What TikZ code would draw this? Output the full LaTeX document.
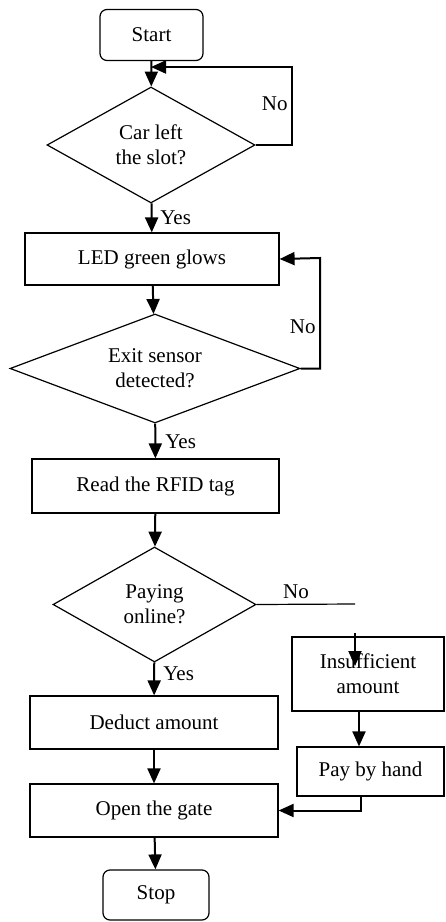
\documentclass[tikz,border=0pt]{standalone}
\usepackage{fontspec}
\setmainfont{Liberation Serif}
\usepackage{tikz}
\usetikzlibrary{arrows.meta,shapes,shapes.geometric,positioning,calc}
\tikzset{process/.style={draw, line width=0.6pt, align=center, inner sep=0pt},
         terminal/.style={process, rounded corners=3.5pt},
         decision/.style={diamond, draw, line width=0.6pt, align=center, inner sep=0pt},
         flow/.style={line width=1pt, -{Triangle[length=7.5pt,width=6.5pt]}},
         plain/.style={line width=0.6pt},
         lbl/.style={font=\fontsize{10.5}{12.5}\selectfont, inner sep=1pt}}

\begin{document}
\begin{tikzpicture}[x=0.5pt,y=-0.5pt,font=\fontsize{10.5}{12.5}\selectfont]
\useasboundingbox (0,0) rectangle (445,922);

% main column
\node[terminal, minimum width=51.5pt, minimum height=25.5pt] (start) at (151.5,35) {Start};
\node[decision, aspect=1.8, minimum width=104pt, minimum height=58pt] (car) at (151,145) {Car left\\the slot?};
\node[process, minimum width=127pt, minimum height=26pt] (led) at (152,259) {LED green glows};
\node[decision, aspect=2.66, minimum width=145pt, minimum height=54.5pt] (exit) at (155,368.5) {Exit sensor\\detected?};
\node[process, minimum width=123.5pt, minimum height=27pt] (read) at (155.5,486) {Read the RFID tag};
\node[decision, aspect=1.77, minimum width=101.5pt, minimum height=57.5pt] (pay) at (154.5,604.5) {Paying\\online?};
\node[process, minimum width=124pt, minimum height=26.5pt] (deduct) at (154,722.5) {Deduct amount};
\node[process, minimum width=124pt, minimum height=26.5pt] (gate) at (154,810.5) {Open the gate};
\node[terminal, minimum width=53pt, minimum height=25pt] (stop) at (156,895) {Stop};

% side column
\node[process, minimum width=76pt, minimum height=37pt] (short) at (368,674) {Insufficient\\amount};
\node[process, minimum width=73.5pt, minimum height=24.5pt] (hand) at (370.5,771.5) {Pay by hand};

\coordinate (carloop) at (292,67);
\coordinate (carback) at (151,67);
\coordinate (exitloop) at (320,258);
\coordinate (noend) at (355,604);
\coordinate (dropstart) at (355,633);
\coordinate (dropend) at (355,666);

\draw[flow] (start) -- (car);
\draw[flow] (car.east) -| (carloop) -- (carback);
\node[lbl, anchor=east] (carno) at (290,104) {No};
\draw[flow] (car) -- (led);
\node[lbl, anchor=west] (caryes) at (158,218) {Yes};

\draw[flow] (led) -- (exit);
\draw[flow] (exit.east) -| (exitloop) -- (led.east);
\node[lbl, anchor=east] (exitno) at (318,327) {No};
\draw[flow] (exit) -- (read);
\node[lbl, anchor=west] (exityes) at (163,442) {Yes};

\draw[flow] (read) -- (pay);
\draw[plain] (pay.east) -- (noend);
\node[lbl] (payno) at (296,592) {No};
\draw[flow] (dropstart) -- (dropend);
\draw[flow] (pay) -- (deduct);
\node[lbl, anchor=west] (payyes) at (161,674) {Yes};

\draw[flow] ([xshift=-4.5pt]short.south) -- ([xshift=-4.5pt]short.south |- hand.north);
\draw[flow] ([xshift=-5pt]hand.south) |- (gate.east);
\draw[flow] (deduct) -- (gate);
\draw[flow] (gate) -- (stop);

\end{tikzpicture}
\end{document}
